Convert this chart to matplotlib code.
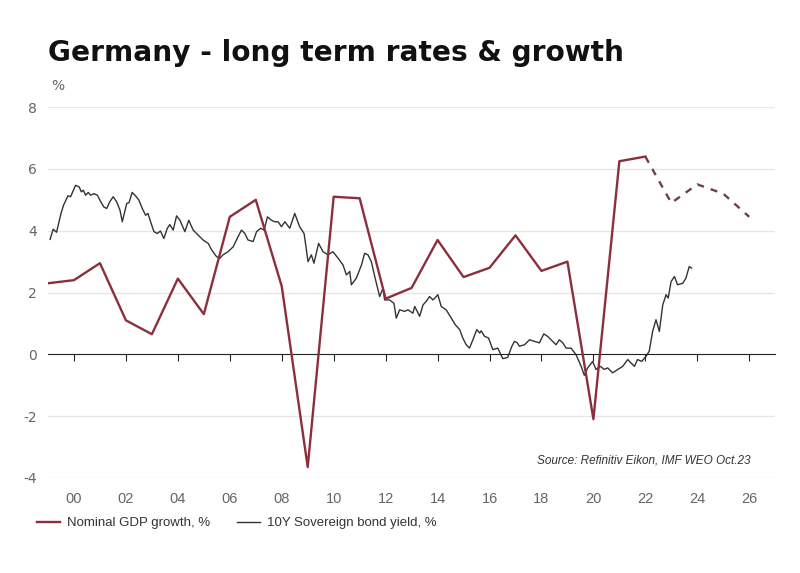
import numpy as np
import matplotlib
matplotlib.use("Agg")
import matplotlib.pyplot as plt
from matplotlib.lines import Line2D

plt.rcParams['axes.unicode_minus'] = False

# nominal GDP growth, % (annual; last years are IMF projections)
gdp_years = [1999, 2000, 2001, 2002, 2003, 2004, 2005, 2006, 2007, 2008, 2009, 2010,
             2011, 2012, 2013, 2014, 2015, 2016, 2017, 2018, 2019, 2020, 2021, 2022]
gdp_vals = [2.3, 2.4, 2.95, 1.1, 0.65, 2.45, 1.3, 4.45, 5.0, 2.2, -3.65, 5.1,
            5.05, 1.8, 2.15, 3.7, 2.5, 2.8, 3.85, 2.7, 3.0, -2.1, 6.25, 6.4]
proj_years = [2022, 2023, 2024, 2025, 2026]
proj_vals = [6.4, 4.9, 5.5, 5.2, 4.45]

# 10Y sovereign bond yield, %
bond_t = [1999.08, 1999.2, 1999.33, 1999.5, 1999.6, 1999.77, 1999.87, 2000.06, 2000.2, 2000.28,
          2000.36, 2000.45, 2000.55, 2000.64, 2000.77, 2000.9, 2001.03, 2001.15, 2001.26, 2001.38,
          2001.51, 2001.64, 2001.77, 2001.86, 2001.95, 2002.03, 2002.12, 2002.24, 2002.37, 2002.5,
          2002.63, 2002.76, 2002.85, 2002.95, 2003.08, 2003.2, 2003.33, 2003.46, 2003.59, 2003.69,
          2003.82, 2003.95, 2004.08, 2004.27, 2004.42, 2004.59, 2004.78, 2004.97, 2005.17, 2005.3,
          2005.49, 2005.62, 2005.74, 2005.93, 2006.13, 2006.32, 2006.45, 2006.58, 2006.7, 2006.9,
          2007.03, 2007.19, 2007.32, 2007.45, 2007.6, 2007.73, 2007.86, 2007.99, 2008.12, 2008.31,
          2008.5, 2008.69, 2008.86, 2008.95, 2009.01, 2009.14, 2009.24, 2009.42, 2009.59, 2009.78,
          2009.97, 2010.17, 2010.36, 2010.49, 2010.62, 2010.68, 2010.87, 2011.07, 2011.19, 2011.32,
          2011.45, 2011.58, 2011.77, 2011.9, 2011.96, 2012.15, 2012.32, 2012.41, 2012.54, 2012.73,
          2012.86, 2013.05, 2013.12, 2013.31, 2013.44, 2013.56, 2013.69, 2013.82, 2013.95, 2014.01,
          2014.14, 2014.33, 2014.53, 2014.68, 2014.85, 2014.97, 2015.1, 2015.23, 2015.36, 2015.51,
          2015.62, 2015.68, 2015.81, 2015.96, 2016.13, 2016.32, 2016.51, 2016.7, 2016.86, 2016.96,
          2017.07, 2017.15, 2017.35, 2017.54, 2017.73, 2017.92, 2018.09, 2018.24, 2018.37, 2018.56,
          2018.69, 2018.82, 2018.95, 2019.14, 2019.33, 2019.53, 2019.65, 2019.78, 2019.97, 2020.1,
          2020.27, 2020.42, 2020.55, 2020.74, 2020.94, 2021.13, 2021.32, 2021.45, 2021.58, 2021.7,
          2021.86, 2022.03, 2022.15, 2022.28, 2022.41, 2022.54, 2022.67, 2022.8, 2022.88, 2022.99,
          2023.12, 2023.24, 2023.44, 2023.56, 2023.69, 2023.78]
bond_y = [3.72, 4.05, 3.95, 4.56, 4.83, 5.13, 5.1, 5.47, 5.42, 5.26,
          5.31, 5.15, 5.24, 5.15, 5.2, 5.15, 4.94, 4.77, 4.72, 4.94,
          5.1, 4.94, 4.67, 4.29, 4.61, 4.88, 4.91, 5.24, 5.13, 4.99,
          4.72, 4.5, 4.56, 4.29, 3.97, 3.91, 3.99, 3.75, 4.07, 4.2,
          4.02, 4.48, 4.34, 3.97, 4.34, 4.02, 3.86, 3.7, 3.59, 3.38,
          3.16, 3.11, 3.22, 3.32, 3.48, 3.81, 4.02, 3.91, 3.7, 3.65,
          3.97, 4.08, 4.02, 4.45, 4.34, 4.29, 4.29, 4.13, 4.29, 4.08,
          4.56, 4.13, 3.91, 3.38, 3.0, 3.22, 2.95, 3.59, 3.32, 3.22,
          3.32, 3.11, 2.89, 2.57, 2.68, 2.25, 2.46, 2.89, 3.27, 3.22,
          3.0, 2.52, 1.87, 2.14, 1.76, 1.76, 1.65, 1.17, 1.44, 1.39,
          1.44, 1.33, 1.55, 1.23, 1.6, 1.71, 1.87, 1.76, 1.87, 1.93,
          1.55, 1.44, 1.17, 0.96, 0.8, 0.53, 0.31, 0.2, 0.47, 0.8,
          0.69, 0.76, 0.58, 0.53, 0.15, 0.2, -0.14, -0.1, 0.26, 0.42,
          0.37, 0.26, 0.31, 0.47, 0.42, 0.37, 0.66, 0.58, 0.47, 0.31,
          0.47, 0.37, 0.2, 0.2, -0.01, -0.39, -0.68, -0.44, -0.23, -0.49,
          -0.39, -0.49, -0.44, -0.6, -0.49, -0.39, -0.17, -0.28, -0.39, -0.17,
          -0.23, -0.06, 0.1, 0.74, 1.12, 0.74, 1.6, 1.93, 1.82, 2.35,
          2.52, 2.25, 2.3, 2.46, 2.84, 2.79]

x_ticks = list(range(2000, 2027, 2))
x_labels = ["00", "02", "04", "06", "08", "10", "12", "14", "16", "18", "20", "22", "24", "26"]
y_ticks = [-4, -2, 0, 2, 4, 6, 8]

red = "#8c2f3c"
grey_txt = "#666666"
sans = ["Liberation Sans", "DejaVu Sans"]

fig = plt.figure(figsize=(8, 5.73), dpi=100)
ax = fig.add_axes([0.06, 0.166, 0.909, 0.647])

for y in y_ticks:
    if y != 0:
        ax.axhline(y, color="#e6e6e6", lw=1, zorder=0)

ax.plot(gdp_years, gdp_vals, color=red, lw=1.7, zorder=3)
ax.plot(proj_years, proj_vals, color="#6e4148", lw=1.7, ls=(0, (3, 3)), zorder=3)
ax.plot(bond_t, bond_y, color="#333333", lw=1.0, zorder=2)

ax.set_xlim(1999, 2027)
ax.set_ylim(-4, 8)

# zero line with the year ticks on it
ax.spines['bottom'].set_position(('data', 0))
ax.spines['bottom'].set_color("#222222")
for s in ['top', 'right', 'left']:
    ax.spines[s].set_visible(False)
ax.set_xticks(x_ticks)
ax.tick_params(axis='x', direction='out', length=5, color="#222222", labelbottom=False)

sec = ax.secondary_xaxis('bottom')
sec.set_xticks(x_ticks)
sec.set_xticklabels(x_labels, family=sans, fontsize=10.5, color=grey_txt)
sec.tick_params(length=0, pad=10)
sec.spines['bottom'].set_visible(False)

ax.set_yticks(y_ticks)
ax.set_yticklabels([str(v) for v in y_ticks], fontsize=10, color=grey_txt)
ax.tick_params(axis='y', length=0, pad=8)

fig.text(0.06, 0.908, "Germany - long term rates & growth", fontsize=20.2, fontweight='bold',
         color="#111111", va='center', ha='left')
fig.text(0.064, 0.85, "%", fontsize=10, color=grey_txt, va='center', ha='left')
fig.text(0.938, 0.197, "Source: Refinitiv Eikon, IMF WEO Oct.23", fontsize=8.5, style='italic',
         family=sans, color="#333333", ha='right', va='center')

handles = [Line2D([], [], color=red, lw=1.7), Line2D([], [], color="#333333", lw=1.0)]
fig.legend(handles, ["Nominal GDP growth, %", "10Y Sovereign bond yield, %"],
           loc='center left', bbox_to_anchor=(0.031, 0.087), ncol=2, frameon=False,
           prop={'family': sans, 'size': 9.5}, labelcolor="#333333",
           handlelength=1.8, handletextpad=0.5, columnspacing=2.0)

fig.savefig("out.png", dpi=100, facecolor="white")
